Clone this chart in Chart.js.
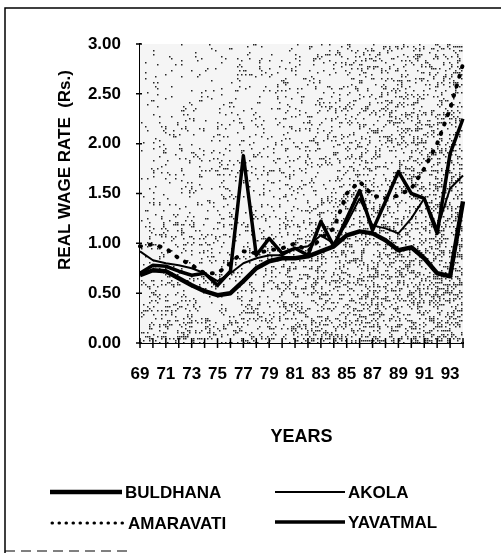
<!DOCTYPE html>
<html>
<head>
<meta charset="utf-8">
<script src="https://cdn.jsdelivr.net/npm/chart.js@4.4.1/dist/chart.umd.min.js"></script>
<style>
  html, body { margin: 0; padding: 0; background: #fff; }
  #wrap { position: relative; width: 501px; height: 555px; }
</style>
</head>
<body>
<div id="wrap"><canvas id="wageChart" width="501" height="555"></canvas></div>
<script>
  // years 1969..1994, labelled every other year
  var years = ["69","70","71","72","73","74","75","76","77","78","79","80","81",
               "82","83","84","85","86","87","88","89","90","91","92","93","94"];
  var yTicks = [0, 0.5, 1, 1.5, 2, 2.5, 3];

  // real wage rate (Rs.) by district
  var buldhana = [0.68,0.73,0.72,0.65,0.58,0.52,0.48,0.50,0.62,0.75,0.82,0.85,0.85,
                  0.87,0.92,0.97,1.08,1.12,1.10,1.03,0.93,0.96,0.85,0.70,0.67,1.42];
  var akola    = [0.92,0.83,0.80,0.78,0.75,0.70,0.62,0.70,0.80,0.85,0.88,0.88,0.95,
                  0.97,1.08,1.00,1.20,1.45,1.18,1.15,1.10,1.25,1.45,1.15,1.55,1.68];
  var amaravati = [0.97,0.99,0.95,0.85,0.78,0.70,0.70,0.80,0.92,0.90,0.93,0.95,1.00,
                  0.92,1.05,1.15,1.50,1.62,1.48,1.45,1.48,1.55,1.75,2.00,2.35,2.80];
  var yavatmal = [0.70,0.78,0.77,0.72,0.68,0.70,0.58,0.72,1.88,0.88,1.05,0.90,0.95,
                  0.88,1.22,0.97,1.25,1.53,1.13,1.42,1.72,1.50,1.45,1.10,1.90,2.25];

  var FONT = "'Liberation Sans', Arial, sans-serif";

  // small seeded generator so the stipple texture is the same on every draw
  function texture(seed) {
    return function () {
      seed = (seed + 0x6D2B79F5) | 0;
      var t = Math.imul(seed ^ (seed >>> 15), 1 | seed);
      t = (t + Math.imul(t ^ (t >>> 7), 61 | t)) ^ t;
      return ((t ^ (t >>> 14)) >>> 0) / 4294967296;
    };
  }

  var stipple = {
    id: "stipple",
    beforeDatasetsDraw: function (chart) {
      var a = chart.chartArea, ctx = chart.ctx;
      var w = a.right - a.left, h = a.bottom - a.top;
      var next = texture(1994);
      ctx.save();
      ctx.fillStyle = "#f5f5f5";
      ctx.fillRect(a.left, a.top, w, h);
      ctx.fillStyle = "rgba(15,15,15,0.9)";
      for (var x = a.left + 1; x < a.right; x += 2) {
        for (var y = a.top; y < a.bottom; y += 2) {
          var fx = (x - a.left) / w, fy = (y - a.top) / h;
          var d = 0.05 + 0.38 * (0.6 * fx * fx + 0.4 * fy * fy);
          if (next() < d) ctx.fillRect(x, y, 1.5, 1.5);
        }
      }
      ctx.restore();
    }
  };

  var decorations = {
    id: "decorations",
    afterDraw: function (chart) {
      var ctx = chart.ctx, xs = chart.scales.x, ys = chart.scales.y;
      var a = chart.chartArea;
      ctx.save();
      ctx.strokeStyle = "#000";

      // tick crosses on both axes
      ctx.lineWidth = 1.5;
      ctx.beginPath();
      for (var i = 0; i < xs.ticks.length; i++) {
        var px = xs.getPixelForTick(i);
        ctx.moveTo(px, a.bottom - 5);
        ctx.lineTo(px, a.bottom + 5);
      }
      for (var j = 0; j < ys.ticks.length; j++) {
        var py = ys.getPixelForTick(j);
        ctx.moveTo(a.left - 4, py);
        ctx.lineTo(a.left + 2, py);
      }
      ctx.stroke();

      // frame
      ctx.lineWidth = 1.5;
      ctx.beginPath();
      ctx.moveTo(5, 553); ctx.lineTo(5, 8); ctx.lineTo(501, 8);
      ctx.stroke();
      ctx.lineWidth = 1;
      ctx.setLineDash([10, 6]);
      ctx.beginPath();
      ctx.moveTo(5, 551); ctx.lineTo(130, 551);
      ctx.stroke();
      ctx.setLineDash([]);

      // axis titles
      ctx.fillStyle = "#000";
      ctx.textAlign = "center";
      ctx.textBaseline = "middle";
      ctx.font = "bold 18px " + FONT;
      ctx.fillText("YEARS", (a.left + a.right) / 2, 437);
      ctx.save();
      ctx.translate(65, 170);
      ctx.rotate(-Math.PI / 2);
      ctx.font = "bold 17px " + FONT;
      ctx.fillText("REAL WAGE RATE  (Rs.)", 0, 0);
      ctx.restore();

      // legend, two columns
      var slots = [[50, 122, 492], [275, 345, 492], [52, 125, 523], [275, 345, 522]];
      ctx.font = "bold 17px " + FONT;
      ctx.textAlign = "left";
      chart.data.datasets.forEach(function (ds, k) {
        var s = slots[k];
        ctx.lineWidth = ds.borderDash ? 3 : ds.borderWidth;
        ctx.lineCap = ds.borderDash ? "round" : "butt";
        ctx.setLineDash(ds.borderDash ? [0.5, 6.5] : []);
        ctx.beginPath();
        ctx.moveTo(s[0], s[2]);
        ctx.lineTo(s[1], s[2]);
        ctx.stroke();
        ctx.setLineDash([]);
        ctx.fillText(ds.label, s[1] + 3, s[2] + 1);
      });
      ctx.restore();
    }
  };

  function series(label, data, width, dash) {
    var ds = {
      label: label,
      data: data,
      borderColor: "#000",
      borderWidth: width,
      pointRadius: 0,
      tension: 0,
      fill: false,
      borderJoinStyle: "round"
    };
    if (dash) { ds.borderDash = dash; ds.borderCapStyle = "round"; }
    return ds;
  }

  new Chart(document.getElementById("wageChart"), {
    type: "line",
    data: {
      labels: years,
      datasets: [
        series("BULDHANA", buldhana, 4.5),
        series("AKOLA", akola, 2),
        series("AMARAVATI", amaravati, 4, [1, 9]),
        series("YAVATMAL", yavatmal, 3.5)
      ]
    },
    options: {
      responsive: false,
      animation: false,
      layout: { padding: { top: 44, right: 38, left: 0, bottom: 0 } },
      plugins: { legend: { display: false }, tooltip: { enabled: false } },
      scales: {
        x: {
          offset: false,
          grid: { display: false, drawTicks: false },
          border: { display: true, color: "#000", width: 2 },
          afterFit: function (s) { s.height = 212; },
          ticks: {
            autoSkip: false,
            maxRotation: 0,
            padding: 21,
            color: "#000",
            font: { family: FONT, size: 17, weight: "bold" },
            callback: function (v, i) { return i % 2 === 0 ? years[i] : ""; }
          }
        },
        y: {
          min: 0,
          max: 3,
          afterFit: function (s) { s.width = 140; },
          afterBuildTicks: function (s) {
            s.ticks = yTicks.map(function (v) { return { value: v }; });
          },
          grid: { display: false, drawTicks: false },
          border: { display: true, color: "#000", width: 2 },
          ticks: {
            padding: 19,
            color: "#000",
            font: { family: FONT, size: 17, weight: "bold" },
            callback: function (v) { return v.toFixed(2); }
          }
        }
      }
    },
    plugins: [stipple, decorations]
  });
</script>
</body>
</html>
